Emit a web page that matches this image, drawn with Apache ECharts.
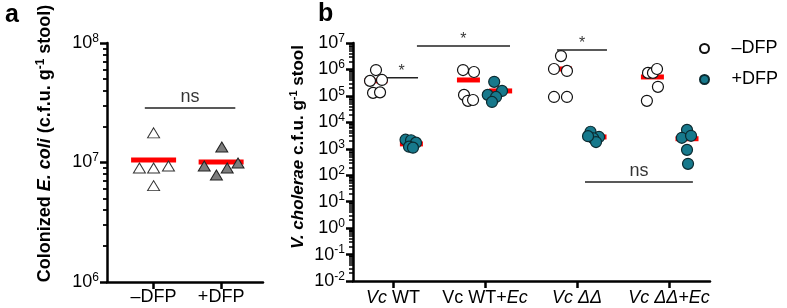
<!DOCTYPE html>
<html>
<head>
<meta charset="utf-8">
<script src="https://cdn.jsdelivr.net/npm/echarts@6/dist/echarts.min.js"></script>
<style>
  html, body { margin: 0; padding: 0; background: #fff; }
  #chart { width: 787px; height: 308px; }
</style>
</head>
<body>
<div id="chart"></div>
<script>
var FONT = '"Liberation Sans", Arial, Helvetica, sans-serif';

// ---- panel a : colonized E. coli ----
var aGroups = ['–DFP', '+DFP'];
var aMinusVals = [1.77e7, 9.0e6, 9.0e6, 9.35e6, 6.4e6];
var aMinusX = [0, -0.21, 0, 0.22, 0];
var aPlusVals = [1.35e7, 9.35e6, 7.85e6, 9.0e6, 9.9e6];
var aPlusX = [1.01, 0.75, 0.93, 1.09, 1.25];
var aMedians = [1.05e7, 1.01e7];
var aMedianX = [0, 1];
var aSig = [-0.13, 1.21, 2.86e7, 'ns'];   // x1, x2, y, text

// ---- panel b : V. cholerae ----
var bCategories = ['Vc WT', 'Vc WT+Ec', 'Vc ΔΔ', 'Vc ΔΔ+Ec'];
var bCategoryLabels = ['{i|Vc} WT', 'Vc WT+{i|Ec}', '{i|Vc ΔΔ}', '{i|Vc ΔΔ+Ec}'];
var bMinusVals = [
  [9.5e5, 3.7e5, 4.0e5, 1.3e5, 1.36e5],
  [9.5e5, 8.0e5, 1.09e5, 6.5e4, 7.0e4],
  [3.2e6, 1.04e6, 8.8e5, 9.1e4, 9.1e4],
  [7.4e5, 7.4e5, 1.04e6, 2.2e5, 6.5e4]
];
var bMinusX = [
  [-0.185, -0.25, -0.12, -0.217, -0.141],
  [0.761, 0.88, 0.772, 0.815, 0.87],
  [1.826, 1.75, 1.891, 1.75, 1.891],
  [2.772, 2.826, 2.87, 2.88, 2.76]
];
var bPlusVals = [
  [2.2e3, 2.1e3, 1.7e3, 1.2e3, 1.1e3],
  [3.4e5, 1.54e5, 1.09e5, 9.1e4, 5.9e4],
  [4.4e3, 2.8e3, 2.5e3, 1.8e3, 3.0e3],
  [5.2e3, 2.6e3, 3.1e3, 9.1e2, 2.7e2]
];
var bPlusX = [
  [0.136, 0.196, 0.25, 0.174, 0.217],
  [1.1, 1.185, 1.03, 1.12, 1.076],
  [2.147, 2.24, 2.177, 2.207, 2.12],
  [3.196, 3.14, 3.24, 3.196, 3.207]
];
var bMinusMedians = [3.7e5, 4.0e5, 1.04e6, 5.2e5];
var bMinusMedianX = [-0.185, 0.82, 1.82, 2.82];
var bPlusMedians = [1.53e3, 1.54e5, 2.8e3, 2.4e3];
var bPlusMedianX = [0.2, 1.17, 2.196, 3.196];
var bSigs = [
  [-0.087, 0.272, 4.8e5, '*'],
  [0.26, 1.272, 7.7e6, '*'],
  [1.783, 2.326, 5.4e6, '*'],
  [2.087, 3.26, 56, 'ns']
];

function minorTicks(lo, hi) {
  var out = [];
  for (var n = lo; n < hi; n++) {
    for (var k = 2; k <= 9; k++) out.push(n + Math.log10(k));
  }
  return out;
}

function pow10Label(v) {
  var e = Math.round(Math.log10(v));
  return '{m|10}{e|' + (e < 0 ? '-' : '') + Math.abs(e) + '}';
}

var powRich = {
  m: { fontFamily: FONT, fontSize: 18, color: '#000', lineHeight: 21 },
  e: { fontFamily: FONT, fontSize: 12, color: '#000', lineHeight: 8, verticalAlign: 'top' }
};

function nameRich(size) {
  return {
    b: { fontFamily: FONT, fontSize: size, fontWeight: 'bold', color: '#000', lineHeight: 20 },
    bi: { fontFamily: FONT, fontSize: size, fontWeight: 'bold', fontStyle: 'italic', color: '#000', lineHeight: 20 },
    s: { fontFamily: FONT, fontSize: Math.round(size * 0.65), fontWeight: 'bold', color: '#000', lineHeight: 8, verticalAlign: 'top' }
  };
}

function pairs(xs, ys) {
  return ys.map(function (y, i) { return [xs[i], y]; });
}

function flat(arr) {
  return [].concat.apply([], arr);
}

var chart = echarts.init(document.getElementById('chart'), null, { renderer: 'canvas' });

var axisLine = { show: true, onZero: false, lineStyle: { color: '#000', width: 2.5 } };

var series = [];

// panel a medians + points
series.push({
  name: 'a median', type: 'scatter', xAxisIndex: 0, yAxisIndex: 0, z: 1,
  symbol: 'rect', symbolSize: [45, 5],
  itemStyle: { color: '#ff0000', opacity: 1 },
  data: pairs(aMedianX, aMedians)
});
series.push({
  name: 'a –DFP', type: 'scatter', xAxisIndex: 0, yAxisIndex: 0, z: 3,
  symbol: 'triangle', symbolSize: [12, 10],
  itemStyle: { color: '#ffffff', borderColor: '#333', borderWidth: 1, opacity: 1 },
  data: pairs(aMinusX, aMinusVals)
});
series.push({
  name: 'a +DFP', type: 'scatter', xAxisIndex: 0, yAxisIndex: 0, z: 3,
  symbol: 'triangle', symbolSize: [12, 10],
  itemStyle: { color: '#7d7d7d', borderColor: '#222', borderWidth: 1, opacity: 1 },
  data: pairs(aPlusX, aPlusVals)
});

// panel b medians + points
series.push({
  name: 'b median', type: 'scatter', xAxisIndex: 1, yAxisIndex: 2, z: 1,
  symbol: 'rect', symbolSize: [23, 5],
  itemStyle: { color: '#ff0000', opacity: 1 },
  data: pairs(bMinusMedianX, bMinusMedians).concat(pairs(bPlusMedianX, bPlusMedians))
});
series.push({
  name: '–DFP', type: 'scatter', xAxisIndex: 1, yAxisIndex: 2, z: 3,
  symbol: 'circle', symbolSize: 11,
  itemStyle: { color: '#ffffff', borderColor: '#111', borderWidth: 1.2, opacity: 1 },
  data: pairs(flat(bMinusX), flat(bMinusVals))
});
series.push({
  name: '+DFP', type: 'scatter', xAxisIndex: 1, yAxisIndex: 2, z: 3,
  symbol: 'circle', symbolSize: 11,
  itemStyle: { color: '#17798c', borderColor: '#0b2a30', borderWidth: 1.2, opacity: 1 },
  data: pairs(flat(bPlusX), flat(bPlusVals))
});

// significance bars
function addSig(sig, xi, yi) {
  series.push({
    type: 'line', xAxisIndex: xi, yAxisIndex: yi, z: 2,
    symbol: 'none', silent: true,
    lineStyle: { color: '#222', width: 1.5 },
    data: [[sig[0], sig[2]], [sig[1], sig[2]]]
  });
  series.push({
    type: 'scatter', xAxisIndex: xi, yAxisIndex: yi, z: 2,
    symbolSize: 1, itemStyle: { color: 'transparent' }, silent: true,
    label: {
      show: true, position: 'top', distance: sig[3] === '*' ? -2 : 1,
      formatter: '{b}', color: '#000', fontFamily: FONT,
      fontSize: sig[3] === '*' ? 16 : 18
    },
    data: [{ name: sig[3], value: [(sig[0] + sig[1]) / 2, sig[2]] }]
  });
}
addSig(aSig, 0, 0);
bSigs.forEach(function (s) { addSig(s, 1, 2); });

var option = {
  animation: false,
  backgroundColor: '#fff',
  textStyle: { fontFamily: FONT },
  title: [
    { text: 'a', left: 0, top: -2, textStyle: { fontFamily: FONT, fontSize: 25, fontWeight: 'bold', color: '#000' } },
    { text: 'b', left: 313, top: -3, textStyle: { fontFamily: FONT, fontSize: 25, fontWeight: 'bold', color: '#000' } }
  ],
  legend: {
    data: ['–DFP', '+DFP'],
    orient: 'vertical',
    left: 694, top: 33,
    itemWidth: 44, itemHeight: 9, itemGap: 10,
    textStyle: { fontFamily: FONT, fontSize: 18, color: '#000', lineHeight: 21 }
  },
  grid: [
    { left: 107, top: 43, width: 156, height: 239, outerBoundsMode: 'none', containLabel: false },
    { left: 353, top: 43, width: 357, height: 238, outerBoundsMode: 'none', containLabel: false }
  ],
  xAxis: [
    {
      type: 'value', gridIndex: 0, min: -0.69, max: 1.62,
      axisLine: axisLine, splitLine: { show: false },
      axisTick: { show: true, customValues: [0, 1], length: 7, lineStyle: { color: '#000', width: 2.5 } },
      axisLabel: {
        customValues: [0, 1], margin: 6, color: '#000', fontFamily: FONT, fontSize: 18,
        formatter: function (v) { return aGroups[Math.round(v)]; }
      }
    },
    {
      type: 'value', gridIndex: 1, min: -0.435, max: 3.446,
      axisLine: axisLine, splitLine: { show: false },
      axisTick: { show: true, customValues: [0, 1, 2, 3], length: 7, lineStyle: { color: '#000', width: 2.5 } },
      axisLabel: {
        customValues: [0, 1, 2, 3], margin: 8, color: '#000', fontFamily: FONT, fontSize: 18,
        formatter: function (v) { return bCategoryLabels[Math.round(v)]; },
        rich: { i: { fontFamily: FONT, fontSize: 18, fontStyle: 'italic', color: '#000' } }
      }
    }
  ],
  yAxis: [
    {
      type: 'log', logBase: 10, gridIndex: 0, min: 1e6, max: 1e8, position: 'left',
      axisLine: axisLine, splitLine: { show: false },
      axisTick: { show: true, length: 7, lineStyle: { color: '#000', width: 2.5 } },
      axisLabel: { margin: 8, formatter: pow10Label, rich: powRich },
      name: '{b|Colonized }{bi|E. coli}{b| (c.f.u. g}{s|-1}{b| stool)}',
      nameLocation: 'middle', nameRotate: 90, nameGap: 52,
      nameTextStyle: { fontFamily: FONT, fontSize: 18, fontWeight: 'bold', color: '#000', padding: [0, 0, 0, 38], rich: nameRich(18) }
    },
    {
      type: 'value', gridIndex: 0, min: 6, max: 8, position: 'left',
      axisLine: { show: false, onZero: false }, splitLine: { show: false }, axisLabel: { show: false },
      axisTick: { show: true, customValues: minorTicks(6, 8), length: 4, lineStyle: { color: '#000', width: 1.8 } }
    },
    {
      type: 'log', logBase: 10, gridIndex: 1, min: 1e-2, max: 1e7, position: 'left',
      axisLine: axisLine, splitLine: { show: false },
      axisTick: { show: true, length: 7, lineStyle: { color: '#000', width: 2.5 } },
      axisLabel: { margin: 8, formatter: pow10Label, rich: powRich },
      name: '{bi|V. cholerae}{b| c.f.u. g}{s|-1}{b| stool}',
      nameLocation: 'middle', nameRotate: 90, nameGap: 45,
      nameTextStyle: { fontFamily: FONT, fontSize: 17, fontWeight: 'bold', color: '#000', padding: [0, 0, 0, 30], rich: nameRich(17) }
    },
    {
      type: 'value', gridIndex: 1, min: -2, max: 7, position: 'left',
      axisLine: { show: false, onZero: false }, splitLine: { show: false }, axisLabel: { show: false },
      axisTick: { show: true, customValues: minorTicks(-2, 7), length: 4, lineStyle: { color: '#000', width: 1.5 } }
    }
  ],
  series: series
};

chart.setOption(option);
</script>
</body>
</html>
